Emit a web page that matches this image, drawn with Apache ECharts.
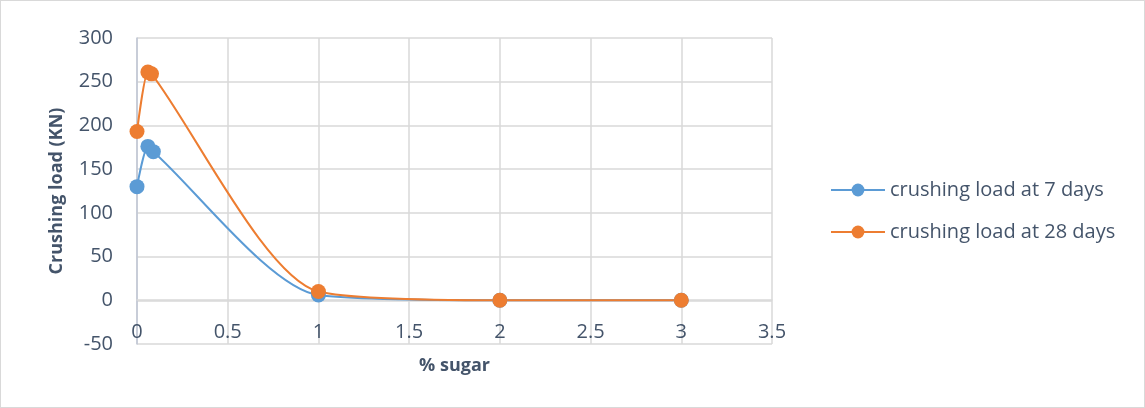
<!DOCTYPE html>
<html>
<head>
<meta charset="utf-8">
<script src="https://cdn.jsdelivr.net/npm/echarts@6/dist/echarts.min.js"></script>
<style>
  html, body { margin: 0; padding: 0; background: #fff; }
  #chart { width: 1145px; height: 408px; box-sizing: border-box; border: 1px solid #d9d9d9; }
</style>
</head>
<body>
<div id="chart"></div>
<script>
// % sugar content of each mix and the measured crushing loads (kN)
const sugar7 = [0, 0.06, 0.09, 1, 2, 3];
const load7 = [130, 176, 170, 6, 0, 0];
const sugar28 = [0, 0.06, 0.08, 1, 2, 3];
const load28 = [193, 261, 259, 10, 0, 0];
const seriesNames = ['crushing load at 7 days', 'crushing load at 28 days'];

const pairs = (xs, ys) => xs.map((x, i) => [x, ys[i]]);
const textColor = '#44546a';
const font = '"Open Sans", Lato, sans-serif';

const chart = echarts.init(document.getElementById('chart'));
chart.setOption({
  animation: false,
  textStyle: { fontFamily: font },
  grid: { left: 136, right: 372, top: 37, bottom: 63 },
  legend: {
    orient: 'vertical',
    left: 824,
    top: 174,
    itemGap: 22,
    itemWidth: 54,
    itemHeight: 16,
    textStyle: { color: textColor, fontSize: 20, fontFamily: font },
    data: seriesNames
  },
  xAxis: {
    type: 'value',
    min: 0, max: 3.5, interval: 0.5,
    name: '% sugar',
    nameLocation: 'middle',
    nameGap: 57,
    nameTextStyle: { color: textColor, fontSize: 18, fontWeight: 'bold', fontFamily: font },
    // axis sits on the zero line, 50 units above the bottom of the plot
    offset: -44,
    axisLine: { onZero: false, lineStyle: { color: '#d9d9d9', width: 1.5 } },
    axisTick: { show: false },
    axisLabel: { color: textColor, fontSize: 20, margin: 22, fontFamily: font },
    splitLine: { show: true, lineStyle: { color: '#d9d9d9', width: 1.5 } }
  },
  yAxis: {
    type: 'value',
    min: -50, max: 300, interval: 50,
    name: 'Crushing load (KN)',
    nameLocation: 'middle',
    nameGap: 71,
    nameTextStyle: { color: textColor, fontSize: 18, fontWeight: 'bold', fontFamily: font },
    axisLine: { show: true, onZero: false, lineStyle: { color: '#bfc6d4', width: 1.5 } },
    axisTick: { show: false },
    axisLabel: { color: textColor, fontSize: 20, margin: 24, fontFamily: font },
    splitLine: { show: true, lineStyle: { color: '#d9d9d9', width: 1.5 } }
  },
  series: [
    {
      name: seriesNames[0],
      type: 'line',
      smooth: 0.25,
      data: pairs(sugar7, load7),
      symbol: 'circle',
      symbolSize: 15,
      itemStyle: { color: '#5b9bd5' },
      lineStyle: { color: '#5b9bd5', width: 2 }
    },
    {
      name: seriesNames[1],
      type: 'line',
      smooth: 0.25,
      data: pairs(sugar28, load28),
      symbol: 'circle',
      symbolSize: 15,
      itemStyle: { color: '#ed7d31' },
      lineStyle: { color: '#ed7d31', width: 2 }
    }
  ]
});
</script>
</body>
</html>
